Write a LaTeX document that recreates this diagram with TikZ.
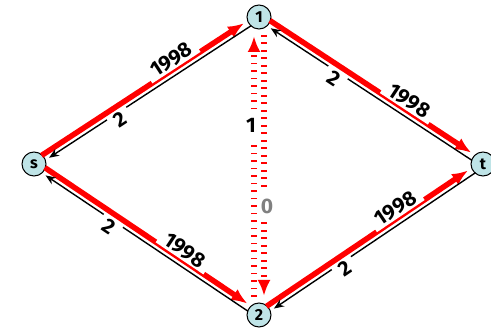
\documentclass[tikz,border=0pt]{standalone}
\usepackage{fontspec}
\setmainfont{Fira Sans}
\usetikzlibrary{calc,arrows.meta}
\definecolor{nodefill}{RGB}{191,228,231}
\definecolor{lblgray}{RGB}{128,128,128}
\begin{document}
\begin{tikzpicture}[x=1pt,y=-1pt,
  vert/.style={circle,draw=black,line width=1pt,fill=nodefill,minimum size=24pt,inner sep=0pt,font=\bfseries\fontsize{16}{16}\selectfont},
  flow/.style={draw=red,line width=5.5pt,-{Latex[length=16pt,width=13pt]},shorten <=11pt,shorten >=16pt},
  back/.style={draw=black,line width=1.4pt,-{Stealth[length=10pt,width=8pt]},shorten <=11pt,shorten >=16pt},
  elabel/.style={fill=white,inner xsep=6pt,inner ysep=2pt,font=\bfseries\fontsize{21}{21}\selectfont},
  vlabel/.style={fill=white,inner xsep=1pt,inner ysep=8pt,font=\bfseries\fontsize{21}{21}\selectfont},
  vflow/.style={draw=red,line width=5.5pt,dash pattern=on 1.7pt off 5.8pt,-{Latex[length=16pt,width=13pt]},shorten <=18pt,shorten >=19pt}]
\useasboundingbox (0,0) rectangle (491,331);
\node[vert] (s) at (34,164) {s};
\node[vert] (n1) at (259,17) {1};
\node[vert] (t) at (483,164) {t};
\node[vert] (n2) at (259,315) {2};
\newcommand\pairedge[2]{%
 \draw[flow] ($(#1)!3pt!90:(#2)$) -- node[elabel,pos=.64,sloped,above=-3pt]{1998} ($(#2)!3pt!-90:(#1)$);
 \draw[back] ($(#2)!3pt!90:(#1)$) -- node[elabel,pos=.64,sloped,below=-3pt]{2} ($(#1)!3pt!-90:(#2)$);}
\pairedge{s}{n1}
\pairedge{n1}{t}
\pairedge{s}{n2}
\pairedge{n2}{t}
\draw[vflow] ($(n2)!5pt!90:(n1)$) -- node[vlabel,pos=.635,xshift=-3pt]{1} ($(n1)!5pt!-90:(n2)$);
\draw[vflow] ($(n1)!5pt!90:(n2)$) -- node[vlabel,pos=.637,xshift=3pt,text=lblgray]{0} ($(n2)!5pt!-90:(n1)$);
\end{tikzpicture}
\end{document}
